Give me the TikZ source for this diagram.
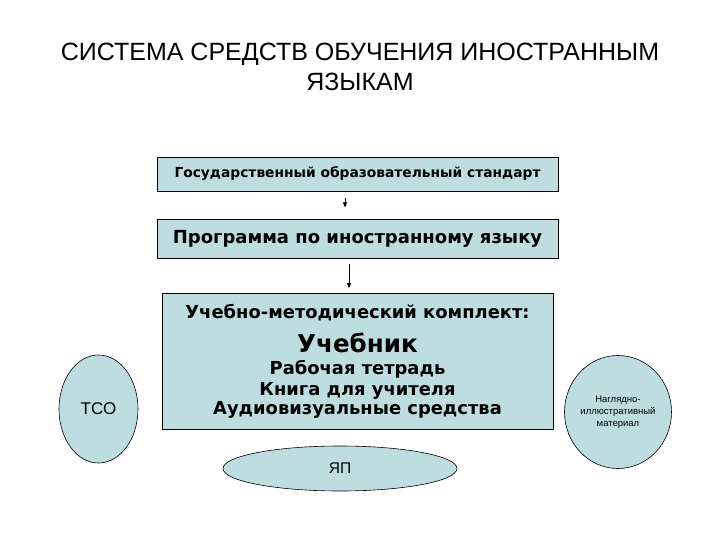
\documentclass[tikz,border=0pt]{standalone}
\usepackage{fontspec}
\setmainfont{Liberation Sans}
\newfontfamily\boxfont{DejaVu Sans}
\usetikzlibrary{shapes.geometric, arrows.meta, positioning}
\definecolor{boxfill}{RGB}{190,221,225}
\tikzset{
  box/.style={rectangle, draw=black, fill=boxfill, minimum width=401pt,
    inner sep=0pt, align=center, line width=0.8pt},
  oval/.style={ellipse, draw=black, fill=boxfill, inner sep=0pt,
    align=center, line width=0.6pt},
  arrow/.style={-{Triangle[length=5pt,width=4pt]}, line width=0.7pt}
}

\begin{document}
\begin{tikzpicture}[x=1pt,y=-1pt]
  \useasboundingbox (0,0) rectangle (720,540);
  \node[font=\fontsize{25}{30}\selectfont, align=center] (title) at (360,67)
    {СИСТЕМА СРЕДСТВ ОБУЧЕНИЯ ИНОСТРАННЫМ\\ЯЗЫКАМ};
  \node[box, minimum height=34pt, font=\boxfont\bfseries\fontsize{13.8}{16}\selectfont]
    (gos) at (357.5,174) {Государственный образовательный стандарт};
  \node[box, minimum height=39pt, below=28pt of gos,
    font=\boxfont\bfseries\fontsize{18}{22}\selectfont] (prog) {Программа по иностранному языку};
  \node[box, minimum width=391pt, minimum height=136pt, below=34pt of prog,
    font=\boxfont\bfseries\fontsize{17.9}{21}\selectfont] (umk)
    {Учебно-методический комплект:\\[11pt]
     {\fontsize{24.6}{26}\selectfont Учебник}\\[1pt]
     Рабочая тетрадь\\[0pt]
     Книга для учителя\\[-2pt]
     Аудиовизуальные средства};
  \node[oval, minimum width=79pt, minimum height=108pt,
    font=\fontsize{17}{18}\selectfont] (tso) at (98.5,409) {ТСО};
  \node[oval, minimum width=234pt, minimum height=45pt,
    font=\fontsize{15.5}{18}\selectfont] (yap) at (340,468.5) {ЯП};
  \node[oval, minimum width=107pt, minimum height=113pt,
    font=\fontsize{9.5}{12}\selectfont] (nagl) at (618,412)
    {Наглядно-\\иллюстративный\\материал};

  \draw[arrow, shorten <=7pt, shorten >=12pt]
    ([xshift=-12.5pt]gos.south) -- ([xshift=-12.5pt]prog.north);
  \draw[arrow, shorten <=5pt, shorten >=5pt]
    ([xshift=-8.5pt]prog.south) -- ([xshift=-8.5pt]umk.north);
\end{tikzpicture}
\end{document}
